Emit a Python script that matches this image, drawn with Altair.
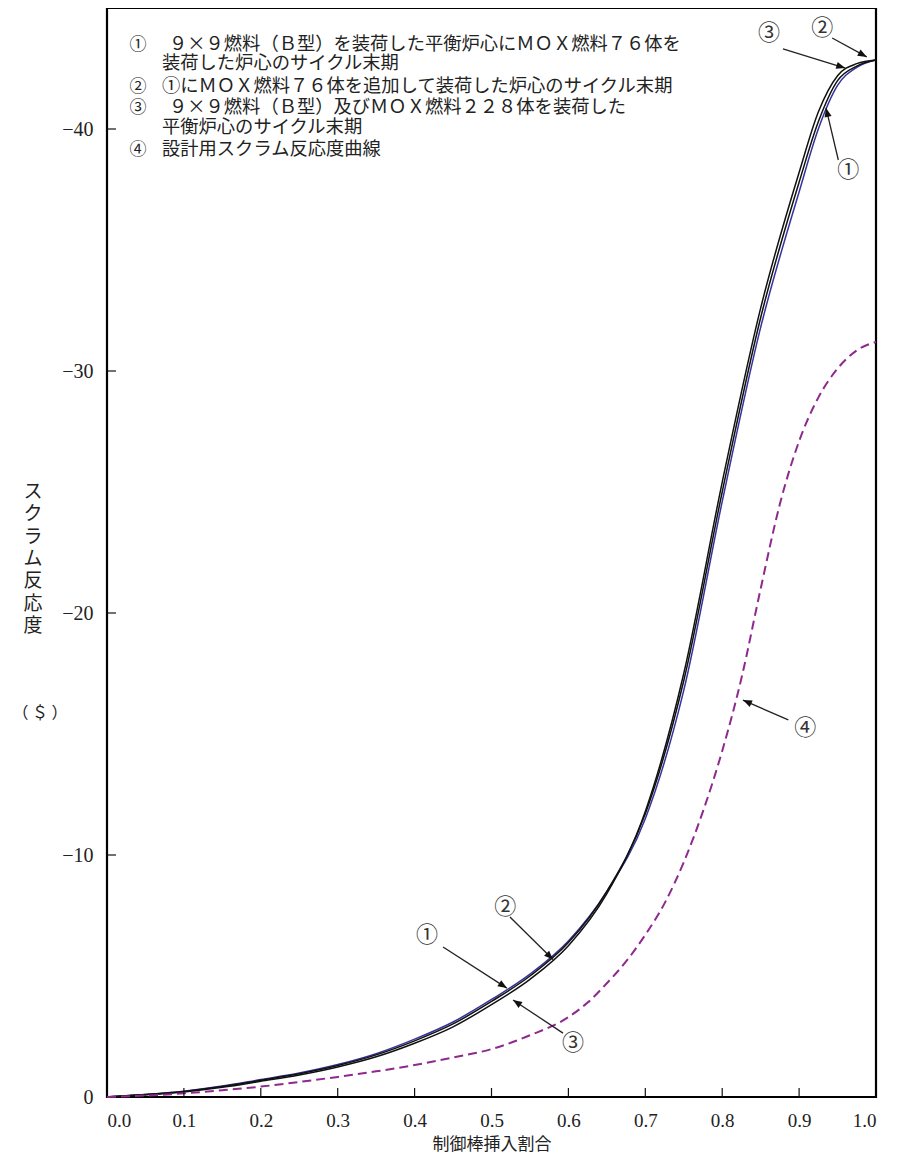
import math
import altair as alt
import pandas as pd

# ---------------- data ----------------
x_main = [0, 0.05, 0.1, 0.15, 0.2, 0.25, 0.3, 0.35, 0.4, 0.45, 0.5, 0.55, 0.6,
          0.65, 0.7, 0.75, 0.8, 0.85, 0.9, 0.925, 0.95, 0.975, 1.0]
curve1 = [0, -0.10, -0.24, -0.45, -0.72, -0.99, -1.34, -1.79, -2.39, -3.10, -4.03, -5.08, -6.45,
          -8.50, -11.5, -16.8, -24.6, -31.8, -37.4, -40.0, -41.8, -42.55, -42.85]
curve2 = [0, -0.10, -0.23, -0.43, -0.69, -0.96, -1.30, -1.74, -2.32, -3.02, -3.95, -5.00, -6.38,
          -8.50, -11.7, -17.2, -25.0, -32.2, -37.8, -40.3, -42.0, -42.6, -42.85]
curve3 = [0, -0.09, -0.21, -0.40, -0.65, -0.91, -1.24, -1.66, -2.22, -2.90, -3.82, -4.86, -6.25,
          -8.40, -11.8, -17.5, -25.4, -32.6, -38.2, -40.7, -42.2, -42.7, -42.85]

x_design = [0, 0.05, 0.1, 0.15, 0.2, 0.25, 0.3, 0.35, 0.4, 0.45, 0.5, 0.55, 0.6, 0.625, 0.65,
            0.675, 0.7, 0.725, 0.75, 0.775, 0.8, 0.825, 0.85, 0.875, 0.9, 0.925, 0.95, 0.975, 1.0]
curve4 = [0, -0.06, -0.15, -0.28, -0.43, -0.62, -0.83, -1.06, -1.32, -1.63, -1.98, -2.55, -3.3, -3.9, -4.7,
          -5.6, -6.7, -8.0, -9.7, -11.8, -14.3, -17.3, -21.0, -24.5, -27.1, -28.9, -30.1, -30.85, -31.2]

x_ticks = [0.0, 0.1, 0.2, 0.3, 0.4, 0.5, 0.6, 0.7, 0.8, 0.9, 1.0]
y_ticks = [-40, -30, -20, -10, 0]

series_names = ["①", "②", "③"]
series_colors = ["#34349c", "#111111", "#111111"]

# annotation labels and arrows
ann_text = ["③", "②", "①", "①", "②", "③", "④"]
ann_x = [0.861, 0.930, 0.964, 0.416, 0.518, 0.606, 0.908]
ann_v = [-43.97, -44.17, -38.31, -6.69, -7.85, -2.23, -15.25]
arr_x1 = [0.879, 0.943, 0.951, 0.437, 0.524, 0.593, 0.886]
arr_v1 = [-43.31, -43.76, -38.72, -6.20, -7.44, -2.64, -15.58]
arr_x2 = [0.960, 0.988, 0.935, 0.520, 0.580, 0.528, 0.827]
arr_v2 = [-42.52, -42.98, -40.87, -4.50, -5.68, -4.01, -16.40]

legend_marks = ["①", "②", "③", "④"]
legend_lines = [
    "９×９燃料（Ｂ型）を装荷した平衡炉心にＭＯＸ燃料７６体を",
    "装荷した炉心のサイクル末期",
    "①にＭＯＸ燃料７６体を追加して装荷した炉心のサイクル末期",
    "９×９燃料（Ｂ型）及びＭＯＸ燃料２２８体を装荷した",
    "平衡炉心のサイクル末期",
    "設計用スクラム反応度曲線",
]
ytitle_chars = ["ス", "ク", "ラ", "ム", "反", "応", "度"]

# ---------------- layout ----------------
W, H = 769, 1089
YDOM = [-45, 0]
SERIF = "Liberation Serif"
JP = "Noto Sans CJK JP"

rows = []
for name, vals in zip(series_names, [curve1, curve2, curve3]):
    for xx, vv in zip(x_main, vals):
        rows.append({"series": name, "x": xx, "v": vv})
df_main = pd.DataFrame(rows)
df_design = pd.DataFrame({"x": x_design, "v": curve4})


def angle_of(x1, v1, x2, v2):
    dx = (x2 - x1) * W
    dy = (v2 - v1) / (YDOM[1] - YDOM[0]) * H  # reversed axis: larger v is lower
    return math.degrees(math.atan2(dx, -dy)) % 360


df_ann = pd.DataFrame({"t": ann_text, "x": ann_x, "v": ann_v})
df_arr = pd.DataFrame({"x": arr_x1, "v": arr_v1, "x2": arr_x2, "v2": arr_v2})
df_arr["ang"] = [angle_of(a, b, c, d) for a, b, c, d in zip(arr_x1, arr_v1, arr_x2, arr_v2)]

xscale = alt.Scale(domain=[0, 1], nice=False, zero=False)
yscale = alt.Scale(domain=YDOM, nice=False, reverse=True, zero=False)
xaxis = alt.Axis(values=x_ticks, format=".1f", ticks=False, domain=False, grid=False,
                 labelFont=SERIF, labelFontSize=19, labelColor="#222", labelPadding=14,
                 title="制御棒挿入割合", titleFont=JP, titleFontSize=17,
                 titleFontWeight="normal", titleColor="#222", titlePadding=6)
yaxis = alt.Axis(values=y_ticks, ticks=False, domain=False, grid=False,
                 labelFont=SERIF, labelFontSize=20, labelColor="#222", labelPadding=14,
                 title=None)


def X(field):
    return alt.X(field, scale=xscale, axis=xaxis)


def Y(field):
    return alt.Y(field, scale=yscale, axis=yaxis)


main = alt.Chart(df_main).mark_line(interpolate="monotone", strokeWidth=1.5).encode(
    x=X("x:Q"), y=Y("v:Q"),
    color=alt.Color("series:N", scale=alt.Scale(domain=series_names, range=series_colors), legend=None),
    order=alt.Order("x:Q"),
)

design = alt.Chart(df_design).mark_line(interpolate="monotone", strokeWidth=2,
                                        strokeDash=[9, 5], color="#8e2a8e").encode(
    x=X("x:Q"), y=Y("v:Q"))

xt = alt.Chart(pd.DataFrame({"x": x_ticks[1:-1]})).mark_rule(color="#111", strokeWidth=1.2).encode(
    x=X("x:Q"), y=alt.value(H), y2=alt.value(H - 9))
yt = alt.Chart(pd.DataFrame({"v": y_ticks[:-1]})).mark_rule(color="#111", strokeWidth=1.2).encode(
    y=Y("v:Q"), x=alt.value(0), x2=alt.value(9))

arrows = alt.Chart(df_arr).mark_rule(color="#222", strokeWidth=1.3).encode(
    x=X("x:Q"), y=Y("v:Q"), x2="x2:Q", y2="v2:Q")
heads = alt.Chart(df_arr).mark_point(shape="M0,0L-0.4,1L0.4,1Z", filled=True, size=324,
                                     color="#111", opacity=1).encode(
    x=X("x2:Q"), y=Y("v2:Q"), angle=alt.Angle("ang:Q", scale=None))
labels = alt.Chart(df_ann).mark_text(font=JP, fontSize=22, color="#333",
                                     align="center", baseline="middle").encode(
    x=X("x:Q"), y=Y("v:Q"), text="t:N")

one = alt.Data(values=[{}])
layers = [main, design, xt, yt, arrows, heads, labels]

# legend block (top-left)
line_y = [37, 55.5, 78.5, 100, 120, 142]
line_x = [62, 55, 55, 62, 55, 55]
mark_rows = [0, 2, 3, 5]
for m, r in zip(legend_marks, mark_rows):
    layers.append(alt.Chart(one).mark_text(text=m, font=JP, fontSize=17, color="#222",
                                           align="center", baseline="middle").encode(
        x=alt.value(31), y=alt.value(line_y[r])))
for txt, lx, ly in zip(legend_lines, line_x, line_y):
    layers.append(alt.Chart(one).mark_text(text=txt, font=JP, fontSize=18.3, color="#222",
                                           align="left", baseline="middle").encode(
        x=alt.value(lx), y=alt.value(ly)))

# vertical y-axis title, one glyph per line
for i, ch in enumerate(ytitle_chars):
    layers.append(alt.Chart(one).mark_text(text=ch, font=JP, fontSize=19, color="#222",
                                           align="center", baseline="middle").encode(
        x=alt.value(-74), y=alt.value(484 + i * 22.3)))
layers.append(alt.Chart(one).mark_text(text="（ ＄ ）", font=JP, fontSize=16, color="#222",
                                       align="center", baseline="middle").encode(
    x=alt.value(-67), y=alt.value(705)))

chart = alt.layer(*layers).properties(
    width=W, height=H,
    autosize=alt.AutoSizeParams(type="none"),
    padding={"left": 99, "top": 0, "right": 27, "bottom": 60},
).configure_view(stroke="#000", strokeWidth=2.2)

chart.save("out.html", embed_options={"renderer": "svg", "actions": False})
